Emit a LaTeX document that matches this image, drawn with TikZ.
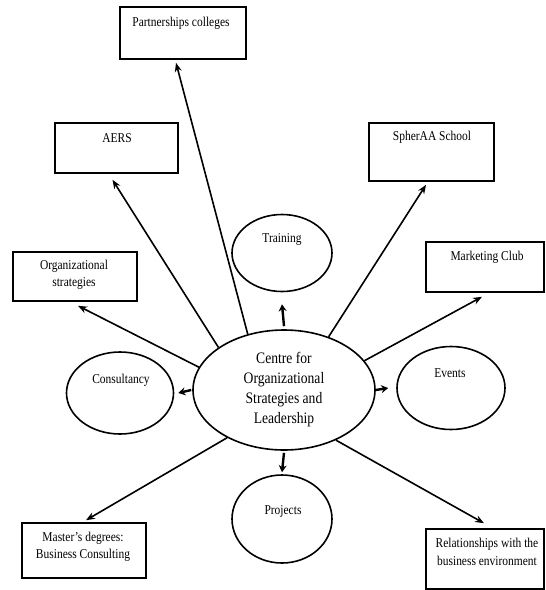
\documentclass[tikz,border=0pt]{standalone}
\usepackage{fontspec}
\setmainfont[FakeStretch=0.85]{Liberation Serif}
\usetikzlibrary{arrows.meta,shapes.geometric}
\begin{document}
\begin{tikzpicture}[x=1pt,y=-1pt,
 box/.style={draw, line width=1.6pt, rectangle, inner sep=0pt},
 oval/.style={draw, line width=1.6pt, ellipse, inner sep=0pt},
 lbl/.style={font=\fontsize{13.5}{17.5}\selectfont, align=center, inner sep=0pt},
 arr/.style={line width=1.6pt, -{Stealth[length=9pt,width=7pt]}},
 sarr/.style={line width=2.4pt, -{Stealth[length=7pt,width=8pt]}},
]
\useasboundingbox (0,0) rectangle (546,590);
% boxes
\node[box, minimum width=126pt, minimum height=52pt] (pc) at (183,33) {};
\node[box, minimum width=123pt, minimum height=50pt] (aers) at (116.5,148) {};
\node[box, minimum width=125pt, minimum height=58pt] (sph) at (431.5,152) {};
\node[box, minimum width=124pt, minimum height=49pt] (org) at (75,276.5) {};
\node[box, minimum width=118pt, minimum height=50pt] (mkt) at (485,267) {};
\node[box, minimum width=124pt, minimum height=55pt] (mas) at (84,550.5) {};
\node[box, minimum width=118pt, minimum height=60pt] (rel) at (485,559) {};
% box labels
\node[lbl] (pct) at (181,23) {Partnerships colleges};
\node[lbl] (aerst) at (117,138) {AERS};
\node[lbl] (spht) at (432,137) {SpherAA School};
\node[lbl] (orgt) at (74,275) {Organizational\\strategies};
\node[lbl] (mktt) at (487,257) {Marketing Club};
\node[lbl] (mast) at (83,547) {Master’s degrees:\\Business Consulting};
\node[lbl] (relt) at (487,552) {Relationships with the\\business environment};
% ellipses
\node[oval, minimum width=182pt, minimum height=120pt, align=center,
      font=\fontsize{16}{20}\selectfont] (c) at (284,390)
  {Centre for\\Organizational\\Strategies and\\Leadership};
\node[oval, minimum width=100pt, minimum height=77pt] (tr) at (282,253) {};
\node[oval, minimum width=107pt, minimum height=82pt] (con) at (120,393) {};
\node[oval, minimum width=108pt, minimum height=83pt] (ev) at (451,388) {};
\node[oval, minimum width=100pt, minimum height=88pt] (pr) at (282,519) {};
\node[lbl] (trt) at (282,239) {Training};
\node[lbl] (cont) at (121,380) {Consultancy};
\node[lbl] (evt) at (450,373) {Events};
\node[lbl] (prt) at (283,511) {Projects};
% long arrows
\draw[arr] (c.123) -- ([xshift=-7pt,yshift=-3pt]pc.south);
\draw[arr] (c.147.6) -- ([xshift=-4pt,yshift=-6pt]aers.south);
\draw[arr] (c.50.6) -- ([xshift=-5.5pt,yshift=-3pt]sph.south);
\draw[arr] (c.165.5) -- ([xshift=3pt,yshift=-4pt]org.south);
\draw[arr] (c.20.3) -- ([xshift=-3pt,yshift=-4pt]mkt.south);
\draw[arr] (c.220) -- ([xshift=2pt,yshift=2pt]mas.north);
\draw[arr] (c.316) -- ([xshift=-1pt,yshift=5pt]rel.north);
% short arrows
\draw[sarr] ([yshift=3pt]c.north) -- ([yshift=-12pt]tr.south);
\draw[sarr] ([xshift=-1pt]c.west) -- ([xshift=4pt]con.east);
\draw[sarr] (c.east) -- ([xshift=-8pt]ev.west);
\draw[sarr] ([yshift=-2pt]c.south) -- ([yshift=2pt]pr.north);
\end{tikzpicture}
\end{document}
